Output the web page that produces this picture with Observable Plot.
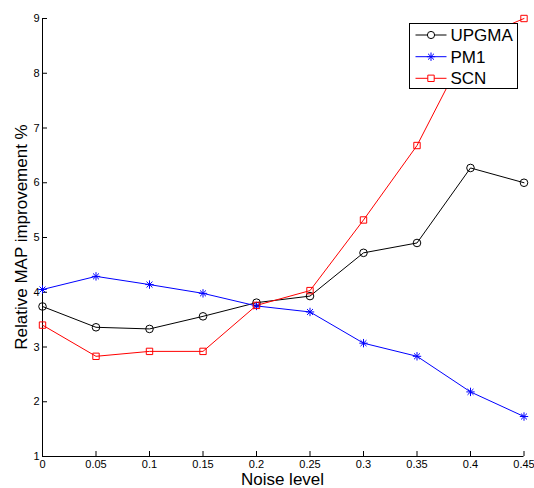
<!DOCTYPE html>
<html>
<head>
<meta charset="utf-8">
<script src="https://cdn.jsdelivr.net/npm/d3@7"></script>
<script src="https://cdn.jsdelivr.net/npm/@observablehq/plot@0.6"></script>
<style>
  body { margin: 0; background: #fff; }
  #chart svg { display: block; font-family: "Liberation Sans", Arial, sans-serif; }
</style>
</head>
<body>
<div id="chart"></div>
<script>
// ---- data ----
const noise = [0, 0.05, 0.1, 0.15, 0.2, 0.25, 0.3, 0.35, 0.4, 0.45];
const upgma = [3.74, 3.36, 3.33, 3.56, 3.81, 3.93, 4.72, 4.90, 6.27, 6.00];
const pm1   = [4.05, 4.29, 4.14, 3.98, 3.75, 3.64, 3.07, 2.83, 2.18, 1.73];
const scn   = [3.40, 2.83, 2.92, 2.92, 3.76, 4.03, 5.32, 6.68, 8.58, 9.00];
const seriesNames = ["UPGMA", "PM1", "SCN"];
const seriesColors = ["#000000", "#0000ff", "#ff0000"];
const xTicks = [0, 0.05, 0.1, 0.15, 0.2, 0.25, 0.3, 0.35, 0.4, 0.45];
const yTicks = [1, 2, 3, 4, 5, 6, 7, 8, 9];
const xLabel = "Noise level";
const yLabel = "Relative MAP improvement %";

const seriesValues = [upgma, pm1, scn];
const rows = seriesNames.flatMap((s, k) => noise.map((x, i) => ({x, y: seriesValues[k][i], s})));

// MATLAB-like '*' marker: + and x combined
const star = {
  draw(ctx, size) {
    const r = Math.sqrt(size / Math.PI);
    const d = r * Math.SQRT1_2;
    ctx.moveTo(-r, 0); ctx.lineTo(r, 0);
    ctx.moveTo(0, -r); ctx.lineTo(0, r);
    ctx.moveTo(-d, -d); ctx.lineTo(d, d);
    ctx.moveTo(-d, d); ctx.lineTo(d, -d);
  }
};
const symbols = {UPGMA: "circle", PM1: star, SCN: "square"};
const colorOf = Object.fromEntries(seriesNames.map((s, i) => [s, seriesColors[i]]));

const fmt = d => String(+d.toFixed(2));

const W = 534, H = 488;
const plot = Plot.plot({
  width: W,
  height: H,
  marginLeft: 42,
  marginRight: 10.5,
  marginTop: 18,
  marginBottom: 32,
  style: {fontFamily: "Liberation Sans, Arial, sans-serif", fontSize: "11px", color: "#000", background: "#fff"},
  x: {domain: [0, 0.45], axis: null},
  y: {domain: [1, 9], axis: null},
  marks: [
    // tick labels
    Plot.axisX(xTicks, {tickSize: 0, tickPadding: 3.5, tickFormat: fmt, label: null, fontSize: 11}),
    Plot.axisY(yTicks, {tickSize: 0, tickPadding: 3, tickFormat: fmt, label: null, fontSize: 11}),
    // inward ticks
    Plot.axisX(xTicks, {tickSize: 5, text: null, dy: -5, label: null, stroke: "#000"}),
    Plot.axisY(yTicks, {tickSize: 5, text: null, dx: 5, label: null, stroke: "#000"}),
    // axis lines
    Plot.ruleY([1], {stroke: "#000", strokeWidth: 1}),
    Plot.ruleX([0], {stroke: "#000", strokeWidth: 1}),
    // series
    ...seriesNames.map(s => Plot.line(rows.filter(d => d.s === s), {x: "x", y: "y", stroke: colorOf[s], strokeWidth: 1})),
    ...seriesNames.map(s => Plot.dot(rows.filter(d => d.s === s), {
      x: "x", y: "y", stroke: colorOf[s], fill: "none", strokeWidth: 1,
      symbol: () => symbols[s], r: s === "PM1" ? 4.2 : s === "SCN" ? 3.6 : 3.8
    }))
  ]
});

document.getElementById("chart").appendChild(plot);

// axis titles and legend
const svg = d3.select(plot);
svg.append("text")
  .attr("x", 282.5).attr("y", 485)
  .attr("text-anchor", "middle")
  .attr("font-size", 17)
  .attr("fill", "#000")
  .text(xLabel);
svg.append("text")
  .attr("transform", "translate(27,237) rotate(-90)")
  .attr("text-anchor", "middle")
  .attr("font-size", 17)
  .attr("fill", "#000")
  .text(yLabel);

const lg = svg.append("g");
lg.append("rect")
  .attr("x", 409.5).attr("y", 23.5).attr("width", 108).attr("height", 65)
  .attr("fill", "#fff").attr("stroke", "#000").attr("stroke-width", 1);
const entryY = [35, 56.7, 78.3];
seriesNames.forEach((s, i) => {
  const y = entryY[i];
  lg.append("line").attr("x1", 415.5).attr("x2", 446.5).attr("y1", y).attr("y2", y)
    .attr("stroke", colorOf[s]).attr("stroke-width", 1);
  const sym = symbols[s];
  const r = s === "PM1" ? 4.2 : 3.6;
  const symObj = typeof sym === "string" ? (sym === "circle" ? d3.symbolCircle : d3.symbolSquare) : sym;
  lg.append("path")
    .attr("transform", `translate(431,${y})`)
    .attr("d", d3.symbol(symObj, r * r * Math.PI)())
    .attr("fill", s === "PM1" ? "none" : "#fff").attr("stroke", colorOf[s]).attr("stroke-width", 1);
  lg.append("text")
    .attr("x", 450.5).attr("y", y).attr("dy", "0.36em")
    .attr("text-anchor", "start")
    .attr("font-size", 17).attr("fill", "#000")
    .text(s);
});
</script>
</body>
</html>
